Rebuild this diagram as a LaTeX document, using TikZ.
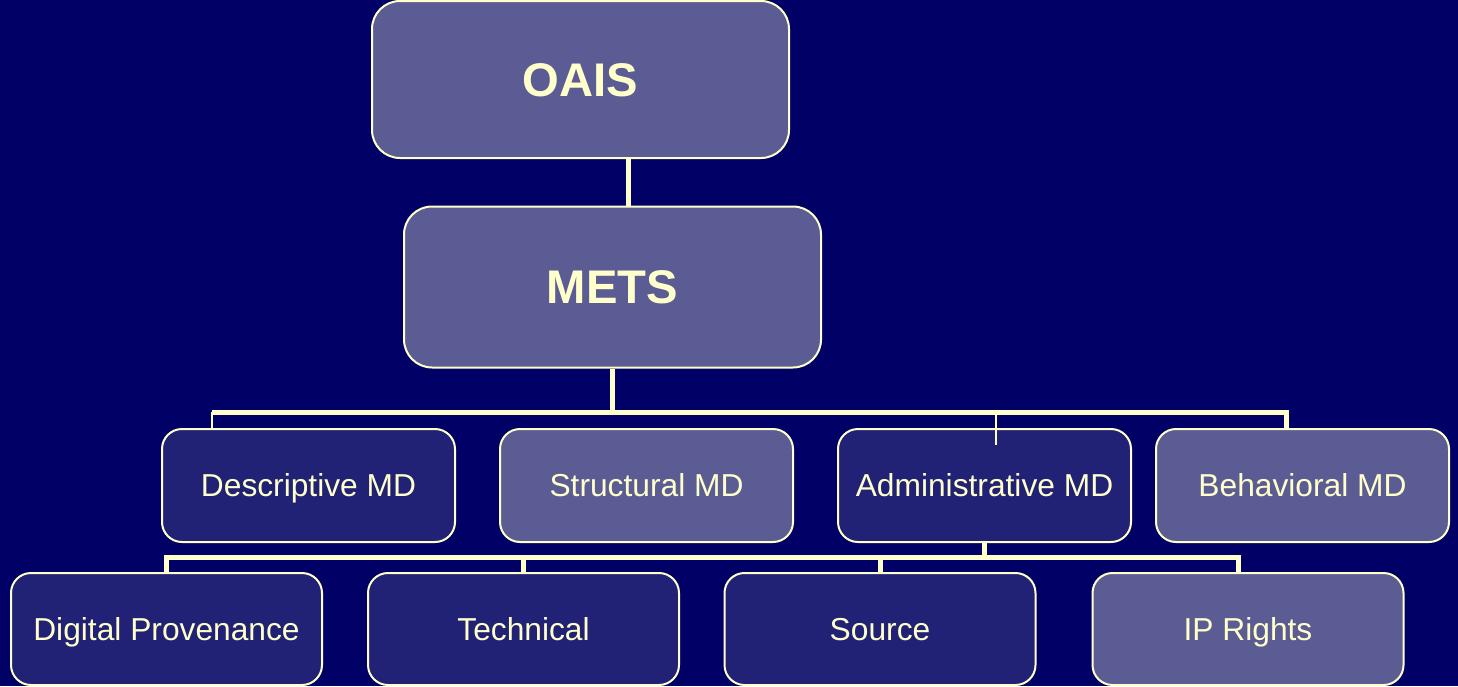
\documentclass[tikz,border=0pt]{standalone}
\usepackage{fontspec}
\setmainfont{Liberation Sans}
\usetikzlibrary{calc}
\definecolor{navy}{HTML}{000066}
\definecolor{boxdark}{HTML}{212176}
\definecolor{boxlight}{HTML}{5C5C94}
\definecolor{cream}{HTML}{FFFFCC}
\pgfdeclarelayer{canvas}
\pgfdeclarelayer{wires}
\pgfsetlayers{canvas,wires,main}
\def\px{0.75pt}
\tikzset{
  box/.style={draw=cream, line width=2*\px, text=cream, align=center,
    inner sep=0pt, text depth=0pt},
  dark/.style={box, fill=boxdark},
  light/.style={box, fill=boxlight},
  toplevel/.style={font=\fontsize{35.4}{40}\selectfont\bfseries,
    text height=25.3pt, minimum width=417*\px, rounded corners=28*\px},
  midlevel/.style={font=\fontsize{23.8}{28}\selectfont, text height=17pt,
    minimum width=293*\px, minimum height=113*\px, rounded corners=20*\px},
  lowlevel/.style={font=\fontsize{23.8}{28}\selectfont, text height=17pt,
    minimum width=311*\px, minimum height=112*\px, rounded corners=20*\px},
  wire/.style={draw=cream, line width=5*\px, line join=miter},
  tick/.style={draw=cream, line width=2*\px}
}
\begin{document}
\begin{tikzpicture}[x=0.75pt, y=-0.75pt]
\useasboundingbox (0,0) rectangle (1458,686);
\begin{pgfonlayer}{canvas}
  \fill[navy] (0,0) rectangle (1458,686);
\end{pgfonlayer}

% top of the hierarchy
\node[light, toplevel, minimum height=157*\px] (oais) at (580.5,79.5) {OAIS};
\node[light, toplevel, minimum height=161*\px] (mets) at (612.5,287) {METS};

% metadata sections
\node[dark,  midlevel] (desc)   at (308.5,485.5)  {Descriptive MD};
\node[light, midlevel] (struct) at (646.5,485.5)  {Structural MD};
\node[dark,  midlevel] (adm)    at (984.5,485.5)  {Administrative MD};
\node[light, midlevel] (beh)    at (1302.5,485.5) {Behavioral MD};

% administrative subsections
\node[dark,  lowlevel] (dp)   at (166.5,629) {Digital Provenance};
\node[dark,  lowlevel] (tech) at (523.5,629) {Technical};
\node[dark,  lowlevel] (src)  at (880,629)   {Source};
\node[light, lowlevel] (ip)   at (1248,629)  {IP Rights};

\coordinate (busA) at (212,412);
\coordinate (busB) at (1286,412);
\coordinate (busC) at (167,557);
\coordinate (busD) at (1238,557);
\coordinate (admTop) at (996,412);
\coordinate (admTick) at (996,445);

\begin{pgfonlayer}{wires}
  \draw[wire] ([xshift=47.5*\px]oais.south) -- ([xshift=15.5*\px]mets.north);
  \draw[wire] (mets.south) -- (mets.south |- busA);
  \draw[wire] (busA) -- (busB) -- (busB |- beh.north);
  \draw[tick] (busA) -- (busA |- desc.north);
  \draw[wire] (adm.south) -- (adm.south |- busC);
  \draw[wire] (dp.north) -- (dp.north |- busC) -- (busD) -- (busD |- ip.north);
  \draw[wire] (tech.north |- busC) -- (tech.north);
  \draw[wire] (src.north |- busC) -- (src.north);
\end{pgfonlayer}

\draw[tick] (admTop) -- (admTick);
\end{tikzpicture}
\end{document}
